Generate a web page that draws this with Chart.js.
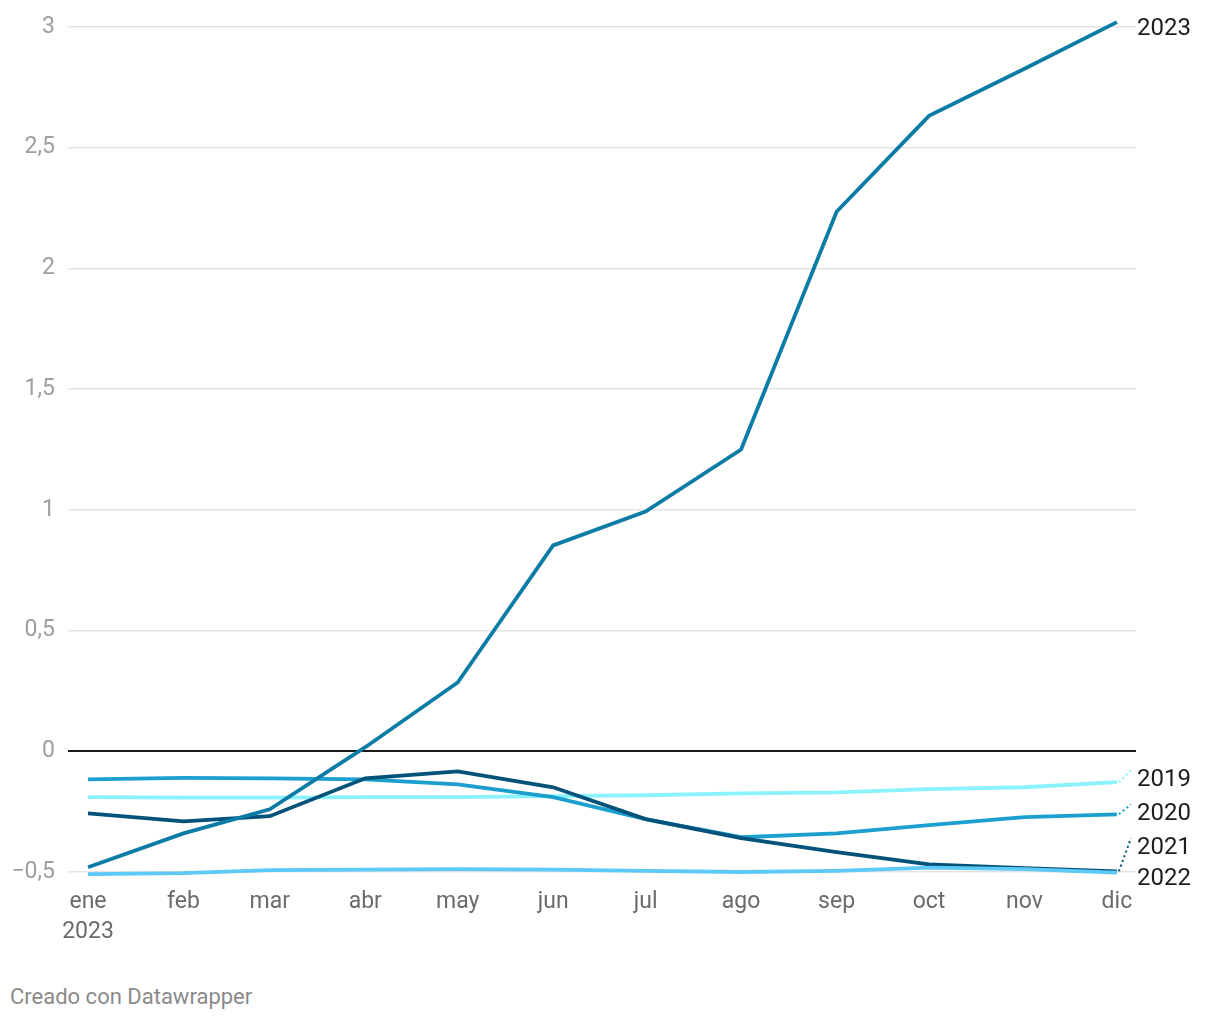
<!DOCTYPE html>
<html>
<head>
<meta charset="utf-8">
<script src="https://cdn.jsdelivr.net/npm/chart.js@4"></script>
<style>
  html, body { margin: 0; padding: 0; background: #fff; }
  #wrap { position: relative; width: 1220px; height: 960px; }
  #foot { position: absolute; left: 10px; top: 984px; font-family: Roboto, sans-serif; font-size: 22px; color: #8a8a8a; }
</style>
</head>
<body>
<div id="wrap"><canvas id="c"></canvas></div>
<div id="foot">Creado con Datawrapper</div>
<script>
const months = ["ene", "feb", "mar", "abr", "may", "jun", "jul", "ago", "sep", "oct", "nov", "dic"];
// day of year (2023) on which each month starts
const monthStartDay = [0, 31, 59, 90, 120, 151, 181, 212, 243, 273, 304, 334];
const firstMonthYear = "2023";
const yTicks = [-0.5, 0, 0.5, 1, 1.5, 2, 2.5, 3];

const s2023 = [-0.48, -0.34, -0.24, 0.017, 0.285, 0.853, 0.993, 1.25, 2.235, 2.632, 2.827, 3.02];
const s2022 = [-0.509, -0.505, -0.492, -0.49, -0.488, -0.49, -0.495, -0.5, -0.495, -0.482, -0.488, -0.503];
const s2021 = [-0.257, -0.29, -0.269, -0.112, -0.083, -0.149, -0.281, -0.36, -0.418, -0.468, -0.484, -0.497];
const s2020 = [-0.116, -0.11, -0.112, -0.116, -0.137, -0.19, -0.281, -0.356, -0.34, -0.306, -0.273, -0.261];
const s2019 = [-0.19, -0.192, -0.192, -0.19, -0.19, -0.186, -0.182, -0.174, -0.17, -0.157, -0.149, -0.128];

const seriesNames = ["2023", "2022", "2021", "2020", "2019"];
const seriesData = [s2023, s2022, s2021, s2020, s2019];
const seriesColors = ["#0a7ca6", "#5cc9f7", "#03527a", "#1a9fcf", "#8af3ff"];
// value at which each end label sits
const labelValues = [2.993, -0.53, -0.401, -0.261, -0.12];
const labelConnector = [false, false, true, true, true];

const fmt = v => {
  let s = String(v).replace('.', ',');
  if (v < 0) s = '\u2212' + s.slice(1);
  return s;
};

const endLabels = {
  id: 'endLabels',
  afterDatasetsDraw(chart) {
    const ctx = chart.ctx;
    const xs = chart.scales.x, ys = chart.scales.y;
    const lastIdx = months.length - 1;
    ctx.save();
    seriesNames.forEach((name, i) => {
      const vx = xs.getPixelForValue(monthStartDay[lastIdx]);
      const vy = ys.getPixelForValue(seriesData[i][lastIdx]);
      const ly = ys.getPixelForValue(labelValues[i]);
      const lx = chart.chartArea.right + 1;
      if (labelConnector[i]) {
        ctx.strokeStyle = seriesColors[i];
        ctx.lineWidth = 2;
        ctx.setLineDash([2, 3]);
        ctx.beginPath();
        ctx.moveTo(vx + 2, vy);
        ctx.lineTo(lx - 6, ly - 10);
        ctx.stroke();
        ctx.setLineDash([]);
      }
      ctx.fillStyle = '#1d1d1d';
      ctx.font = '24px Roboto, sans-serif';
      ctx.textAlign = 'left';
      ctx.textBaseline = 'middle';
      ctx.fillText(name, lx, ly);
    });
    ctx.restore();
  }
};

new Chart(document.getElementById('c'), {
  type: 'line',
  data: {
    datasets: seriesNames.map((n, i) => ({
      label: n,
      data: seriesData[i].map((v, k) => ({ x: monthStartDay[k], y: v })),
      borderColor: seriesColors[i],
      backgroundColor: seriesColors[i],
      borderWidth: 3.8,
      pointRadius: 0,
      tension: 0,
      fill: false,
      clip: 10
    }))
  },
  options: {
    responsive: true,
    maintainAspectRatio: false,
    animation: false,
    layout: { padding: { top: 27, right: 84, bottom: 15, left: 0 } },
    plugins: { legend: { display: false }, tooltip: { enabled: false } },
    scales: {
      x: {
        type: 'linear',
        min: -6.5,
        max: 340.2,
        afterBuildTicks(scale) { scale.ticks = monthStartDay.map(d => ({ value: d })); },
        afterFit(scale) { scale.height = 73; },
        grid: { display: false, drawTicks: false },
        border: { display: false },
        ticks: {
          padding: 15,
          color: '#6b6b6b',
          font: { family: 'Roboto', size: 23, lineHeight: 1.3 },
          maxRotation: 0,
          autoSkip: false,
          callback: (v) => {
            const k = monthStartDay.indexOf(v);
            return k === 0 ? [months[0], firstMonthYear] : months[k];
          }
        }
      },
      y: {
        min: -0.5,
        max: 3,
        afterBuildTicks(scale) { scale.ticks = yTicks.map(v => ({ value: v })); },
        afterFit(scale) { scale.width = 68; },
        grid: {
          drawTicks: false,
          color: ctx => ctx.tick && ctx.tick.value === 0 ? '#1a1a1a' : '#e3e3e3',
          lineWidth: ctx => ctx.tick && ctx.tick.value === 0 ? 2 : 1.5
        },
        border: { display: false },
        ticks: {
          padding: 13,
          color: '#9e9e9e',
          font: { family: 'Roboto', size: 23 },
          callback: v => fmt(v)
        }
      }
    }
  },
  plugins: [endLabels]
});
</script>
</body>
</html>
